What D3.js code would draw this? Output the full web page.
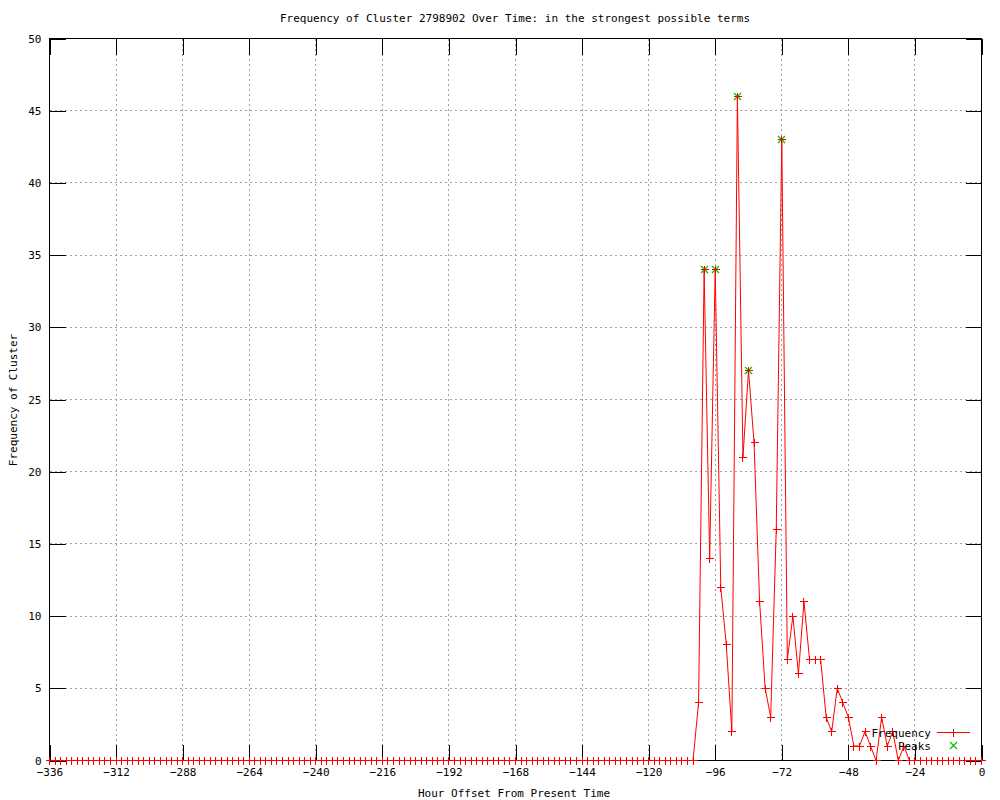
<!DOCTYPE html>
<html>
<head>
<meta charset="utf-8">
<script src="https://cdn.jsdelivr.net/npm/d3@7"></script>
</head>
<body style="margin:0;background:#fff">
<div id="chart"></div>
<script>
// hour offsets, every 2 hours from -336 to 0
var hours = d3.range(-336, 1, 2);
// cluster frequency per 2-hour slot
var freq = [
  0,0,0,0,0,0,0,0,0,0,0,0,0,0,0,0,0,0,0,0,
  0,0,0,0,0,0,0,0,0,0,0,0,0,0,0,0,0,0,0,0,
  0,0,0,0,0,0,0,0,0,0,0,0,0,0,0,0,0,0,0,0,
  0,0,0,0,0,0,0,0,0,0,0,0,0,0,0,0,0,0,0,0,
  0,0,0,0,0,0,0,0,0,0,0,0,0,0,0,0,0,0,0,0,
  0,0,0,0,0,0,0,0,0,0,0,0,0,0,0,0,0,
  4,34,14,34,12,8,2,46,21,27,22,11,5,3,16,43,7,10,6,11,
  7,7,7,3,2,5,4,3,1,1,2,1,0,3,1,2,0,1,0,
  0,0,0,0,0,0,0,0,0,0,0,0,0
];
var peakHours = [-100, -96, -88, -84, -72];
var peakFreq = [34, 34, 46, 27, 43];
var xTicks = [-336,-312,-288,-264,-240,-216,-192,-168,-144,-120,-96,-72,-48,-24,0];
var yTicks = [0,5,10,15,20,25,30,35,40,45,50];

var W = 1000, H = 800;
var L = 49.5, R = 981.5, T = 38.5, B = 760.5;

var svg = d3.select("#chart").append("svg")
  .attr("width", W).attr("height", H)
  .attr("font-family", "'DejaVu Sans Mono', monospace")
  .attr("font-size", 11);

var x = d3.scaleLinear().domain([-336, 0]).range([L, R]);
var y = d3.scaleLinear().domain([0, 50]).range([B, T]);

function px(v) { return Math.round(v - 0.5) + 0.5; }

// grid
var grid = svg.append("g").attr("stroke", "#a0a0a0").attr("stroke-dasharray", "2,3")
  .attr("shape-rendering", "crispEdges");
grid.selectAll("line.gx").data(xTicks.slice(1, -1)).enter().append("line")
  .attr("class", "gx")
  .attr("x1", function(d) { return px(x(d)); })
  .attr("x2", function(d) { return px(x(d)); })
  .attr("y1", T).attr("y2", B);
grid.selectAll("line.gy").data(yTicks.slice(1, -1)).enter().append("line")
  .attr("class", "gy")
  .attr("y1", function(d) { return px(y(d)); })
  .attr("y2", function(d) { return px(y(d)); })
  .attr("x1", L).attr("x2", R);

// axes, inward ticks
function styleAxis(g) {
  g.select(".domain").remove();
  g.attr("font-family", null).attr("font-size", null);
  g.selectAll("line").attr("stroke", "#000").attr("shape-rendering", "crispEdges");
  g.selectAll("text").attr("fill", "#000");
}
svg.append("g").attr("transform", "translate(0," + B + ")")
  .call(d3.axisBottom(x).tickValues(xTicks).tickSize(-16).tickPadding(8).tickFormat(d3.format("d")))
  .call(styleAxis);
svg.append("g").attr("transform", "translate(0," + T + ")")
  .call(d3.axisTop(x).tickValues(xTicks).tickSize(-16).tickFormat(""))
  .call(styleAxis);
svg.append("g").attr("transform", "translate(" + L + ",0)")
  .call(d3.axisLeft(y).tickValues(yTicks).tickSize(-16).tickPadding(8).tickFormat(d3.format("d")))
  .call(styleAxis);
svg.append("g").attr("transform", "translate(" + R + ",0)")
  .call(d3.axisRight(y).tickValues(yTicks).tickSize(-16).tickFormat(""))
  .call(styleAxis);

// frame
svg.append("rect").attr("x", L).attr("y", T).attr("width", R - L).attr("height", B - T)
  .attr("fill", "none").attr("stroke", "#000").attr("shape-rendering", "crispEdges");

// frequency line
var pts = hours.map(function(h, i) { return [h, freq[i]]; });
svg.append("path").datum(pts)
  .attr("fill", "none").attr("stroke", "#ff0000").attr("stroke-width", 1)
  .attr("d", d3.line().x(function(d) { return x(d[0]); }).y(function(d) { return y(d[1]); }));

function plus(g, cx, cy, color) {
  g.append("path").attr("stroke", color).attr("fill", "none").attr("shape-rendering", "crispEdges")
    .attr("d", "M" + (cx - 4) + "," + cy + "H" + (cx + 4) + "M" + cx + "," + (cy - 4) + "V" + (cy + 4));
}
function cross(g, cx, cy, color) {
  g.append("path").attr("stroke", color).attr("fill", "none").attr("stroke-width", 1.2)
    .attr("d", "M" + (cx - 3.5) + "," + (cy - 3.5) + "L" + (cx + 3.5) + "," + (cy + 3.5) +
      "M" + (cx - 3.5) + "," + (cy + 3.5) + "L" + (cx + 3.5) + "," + (cy - 3.5));
}
var marks = svg.append("g");
peakHours.forEach(function(h, i) {
  cross(marks, px(x(h)), px(y(peakFreq[i])), "#00c000");
});
pts.forEach(function(d) {
  plus(marks, px(x(d[0])), px(y(d[1])), "#ff0000");
});

// legend
var legend = svg.append("g");
legend.append("text").attr("x", 931).attr("y", 737).attr("text-anchor", "end").text("Frequency");
legend.append("line").attr("x1", 937).attr("x2", 970).attr("y1", 732.5).attr("y2", 732.5)
  .attr("stroke", "#ff0000").attr("shape-rendering", "crispEdges");
plus(legend, 953.5, 732.5, "#ff0000");
legend.append("text").attr("x", 931).attr("y", 750).attr("text-anchor", "end").text("Peaks");
cross(legend, 953.5, 745.5, "#00c000");

// titles
svg.append("text").attr("x", 515).attr("y", 22).attr("text-anchor", "middle")
  .text("Frequency of Cluster 2798902 Over Time: in the strongest possible terms");
svg.append("text").attr("x", 514).attr("y", 797).attr("text-anchor", "middle")
  .text("Hour Offset From Present Time");
svg.append("text").attr("transform", "translate(17,400) rotate(-90)").attr("text-anchor", "middle")
  .text("Frequency of Cluster");
</script>
</body>
</html>
